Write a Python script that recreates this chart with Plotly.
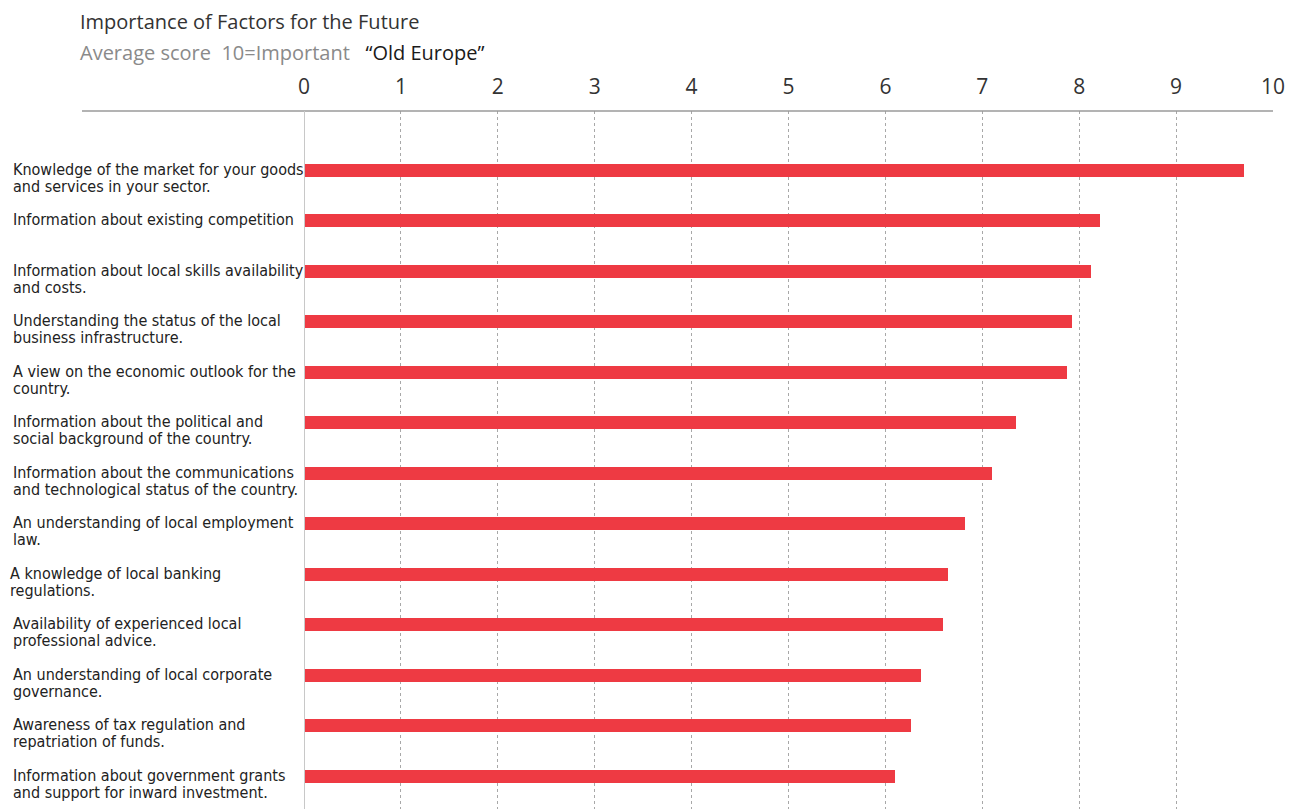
import plotly.graph_objects as go

categories = [
    "Knowledge of the market for your goods<br>and services in your sector.",
    "Information about existing competition",
    "Information about local skills availability<br>and costs.",
    "Understanding the status of the local<br>business infrastructure.",
    "A view on the economic outlook for the<br>country.",
    "Information about the political and<br>social background of the country.",
    "Information about the communications<br>and technological status of the country.",
    "An understanding of local employment<br>law.",
    "A knowledge of local banking<br>regulations.",
    "Availability of experienced local<br>professional advice.",
    "An understanding of local corporate<br>governance.",
    "Awareness of tax regulation and<br>repatriation of funds.",
    "Information about government grants<br>and support for inward investment.",
]
values = [9.70, 8.21, 8.12, 7.93, 7.87, 7.35, 7.10, 6.82, 6.65, 6.59, 6.37, 6.26, 6.10]
tick_vals = [0, 1, 2, 3, 4, 5, 6, 7, 8, 9, 10]
tick_text = [str(v) for v in tick_vals]

title = "Importance of Factors for the Future"
subtitle_gray = "Average score  10=Important"
subtitle_dark = "\u201cOld Europe\u201d"

W, H = 1303, 809
L, R, T, B = 304, 30, 111, 0
plot_w = W - L - R

idx = list(range(len(categories)))

fig = go.Figure()
fig.add_trace(go.Bar(
    x=values, y=idx, orientation="h",
    marker=dict(color="#ee3a43", line=dict(width=0)),
    width=0.26, hoverinfo="x",
))

LABEL_FONT = dict(family="Liberation Sans Narrow, Arial Narrow, DejaVu Sans Condensed", size=16, color="#222")
label_x = (11 - L) / plot_w
for i, cat in enumerate(categories):
    lines = cat.split("<br>")
    xs = -3 if i == 8 else 0
    for j, ln in enumerate(lines):
        fig.add_annotation(
            text=ln, xref="paper", yref="y", x=label_x, y=i,
            xanchor="left", yanchor="middle", showarrow=False,
            yshift=1 - 17 * j, xshift=xs, font=LABEL_FONT,
        )

# title and subtitle
TFONT = "Open Sans, Noto Sans, sans-serif"
fig.add_annotation(
    text=title, xref="paper", yref="paper",
    x=(78 - L) / plot_w, y=1 + (T - 22) / (H - T - B),
    xanchor="left", yanchor="middle", showarrow=False,
    font=dict(family=TFONT, size=20, color="#333"),
)
fig.add_annotation(
    text=f"<span style='color:#8a8a8a'>{subtitle_gray}</span>   <span style='color:#1a1a1a'>{subtitle_dark}</span>",
    xref="paper", yref="paper",
    x=(78 - L) / plot_w, y=1 + (T - 53) / (H - T - B),
    xanchor="left", yanchor="middle", showarrow=False,
    font=dict(family=TFONT, size=20, color="#8a8a8a"),
)

# top axis line extending left
fig.add_shape(
    type="line", xref="paper", yref="paper",
    x0=(82 - L) / plot_w, x1=1.0, y0=1, y1=1,
    line=dict(color="#9a9a9a", width=1.5),
)

fig.update_layout(
    width=W, height=H,
    margin=dict(l=L, r=R, t=T, b=B),
    paper_bgcolor="white", plot_bgcolor="white",
    showlegend=False,
    bargap=0,
    xaxis=dict(
        side="top", range=[0, 10], tickvals=tick_vals, ticktext=tick_text,
        showgrid=True, gridcolor="#a8a8a8", griddash="dot", gridwidth=1,
        zeroline=False, showline=False, ticks="",
        tickfont=dict(family=TFONT, size=21, color="#333"),
        ticklabelstandoff=12, fixedrange=True,
    ),
    yaxis=dict(
        range=[12.65, -1.17], showgrid=False, showticklabels=False,
        zeroline=False, showline=False, ticks="", fixedrange=True,
    ),
)
# vertical zero line
fig.add_shape(
    type="line", xref="x", yref="paper", x0=0, x1=0, y0=0, y1=1,
    line=dict(color="#c8c8c8", width=2), layer="above",
)

fig.write_html("out.html")
